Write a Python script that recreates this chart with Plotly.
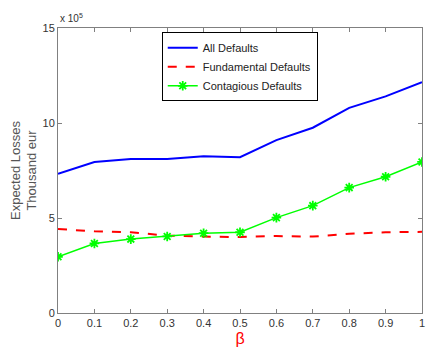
import plotly.graph_objects as go

beta = [0, 0.1, 0.2, 0.3, 0.4, 0.5, 0.6, 0.7, 0.8, 0.9, 1.0]
all_defaults = [7.33, 7.95, 8.1, 8.1, 8.25, 8.2, 9.1, 9.75, 10.8, 11.4, 12.15]
fundamental = [4.42, 4.3, 4.25, 4.07, 4.02, 4.0, 4.05, 4.02, 4.17, 4.25, 4.27]
contagious = [2.96, 3.66, 3.89, 4.03, 4.2, 4.25, 5.02, 5.65, 6.6, 7.17, 7.95]
x_ticks = [0, 0.1, 0.2, 0.3, 0.4, 0.5, 0.6, 0.7, 0.8, 0.9, 1]
y_ticks = [0, 5, 10, 15]

font = "Liberation Sans, Arial, sans-serif"
axcol = "#808080"

fig = go.Figure()
fig.add_trace(go.Scatter(x=beta, y=all_defaults, mode="lines", name="All Defaults",
                         line=dict(color="#0000FF", width=2)))
fig.add_trace(go.Scatter(x=beta, y=fundamental, mode="lines", name="Fundamental Defaults",
                         line=dict(color="#FF0000", width=2, dash="dash")))
fig.add_trace(go.Scatter(x=beta, y=contagious, mode="lines+markers", name="Contagious Defaults",
                         line=dict(color="#00FF00", width=1.5),
                         marker=dict(symbol="asterisk-open", size=8,
                                     line=dict(color="#00FF00", width=1.8))))

fig.update_layout(
    width=426, height=349,
    margin=dict(l=58, r=1, t=28, b=36),
    paper_bgcolor="white", plot_bgcolor="white",
    font=dict(family=font, size=11, color="#333333"),
    showlegend=True,
    legend=dict(x=0.285, y=0.985, xanchor="left", yanchor="top",
                bgcolor="white", bordercolor="black", borderwidth=1,
                font=dict(size=11, color="#222222"), tracegroupgap=0,
                itemwidth=30),
    xaxis=dict(range=[0, 1], tickvals=x_ticks, ticktext=[str(t) for t in x_ticks],
               showgrid=False, zeroline=False, showline=True, linecolor=axcol,
               linewidth=1, mirror="ticks", ticks="inside", ticklen=4, tickcolor=axcol,
               ticklabeloverflow="allow",
               title=dict(text="β", font=dict(color="#FF0000", size=16), standoff=4)),
    yaxis=dict(range=[0, 15], tickvals=y_ticks,
               showgrid=False, zeroline=False, showline=True, linecolor=axcol,
               linewidth=1, mirror="ticks", ticks="inside", ticklen=4, tickcolor=axcol,
               title=dict(text="Expected Losses<br>Thousand eur", font=dict(size=13, color="#555555"), standoff=2)),
)
fig.add_annotation(text="x 10<sup>5</sup>", xref="paper", yref="paper", x=0, y=1.0,
                   xanchor="left", yanchor="bottom", showarrow=False,
                   font=dict(size=10, color="#333333"), yshift=2)
fig.write_html("out.html")
